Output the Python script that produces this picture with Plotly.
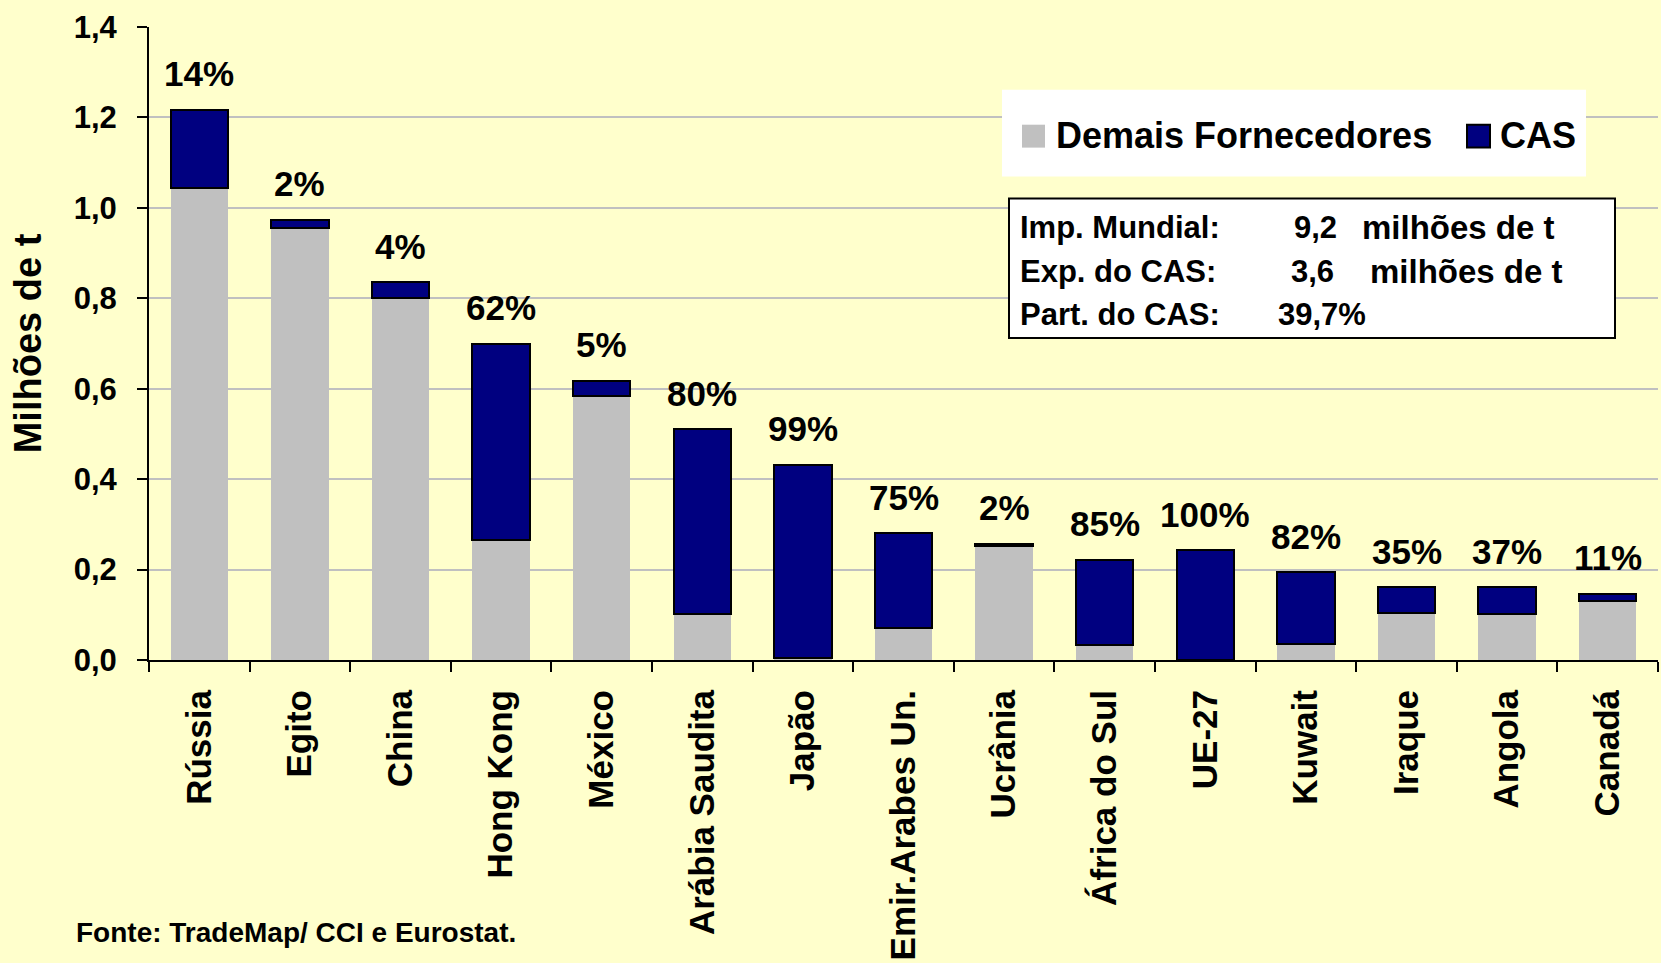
import plotly.graph_objects as go

# ---------------- data ----------------
categories = ["Rússia", "Egito", "China", "Hong Kong", "México", "Arábia Saudita",
              "Japão", "Emir.Arabes Un.", "Ucrânia", "África do Sul", "UE-27",
              "Kuwait", "Iraque", "Angola", "Canadá"]
demais = [1.045, 0.955, 0.800, 0.265, 0.585, 0.102, 0.004, 0.070, 0.252,
          0.033, 0.000, 0.035, 0.105, 0.101, 0.131]
cas = [0.172, 0.019, 0.035, 0.435, 0.033, 0.408, 0.428, 0.210, 0.005,
       0.189, 0.243, 0.159, 0.056, 0.060, 0.016]
cas_share = [14, 2, 4, 62, 5, 80, 99, 75, 2, 85, 100, 82, 35, 37, 11]
y_ticks = [0.0, 0.2, 0.4, 0.6, 0.8, 1.0, 1.2, 1.4]
series_names = ["Demais Fornecedores", "CAS"]
info_labels = ["Imp. Mundial:", "Exp. do CAS:", "Part. do CAS:"]
info_values = ["9,2", "3,6", "39,7%"]
info_units = ["milhões de t", "milhões de t", ""]
source_text = "Fonte: TradeMap/ CCI e Eurostat."
y_title = "Milhões de t"

# ---------------- style ----------------
W, H = 1661, 963
L, R, T, B = 149, 3, 27, 301
PW, PH = W - L - R, H - T - B
FONT = "Liberation Sans, Arial, sans-serif"
BG = "#FFFFCC"
GRAY = "#C0C0C0"
NAVY = "#000080"


def px(x):
    return (x - L) / PW


def py(y):
    return (H - B - y) / PH


fig = go.Figure()
fig.add_trace(go.Bar(x=categories, y=demais, name=series_names[0],
                     marker=dict(color=GRAY, line=dict(width=0)),
                     showlegend=False))
fig.add_trace(go.Bar(x=categories, y=cas, name=series_names[1],
                     marker=dict(color=NAVY, line=dict(color="black", width=2)),
                     showlegend=False))

totals = [a + b for a, b in zip(demais, cas)]
annotations = []
for c, t, s in zip(categories, totals, cas_share):
    annotations.append(dict(x=c, y=t, xref="x", yref="y", text=f"{s}%",
                            showarrow=False, yanchor="middle", yshift=36,
                            font=dict(family=FONT, size=35, color="black", weight="bold")))

# legend (drawn manually so the swatches match the reference size)
shapes = [
    dict(type="rect", xref="paper", yref="paper", x0=px(1002), x1=px(1586),
         y0=py(177), y1=py(90), fillcolor="white", line=dict(width=0), layer="above"),
    dict(type="rect", xref="paper", yref="paper", x0=px(1022), x1=px(1045),
         y0=py(148), y1=py(125), fillcolor=GRAY, line=dict(width=0), layer="above"),
    dict(type="rect", xref="paper", yref="paper", x0=px(1467), x1=px(1490),
         y0=py(148), y1=py(125), fillcolor=NAVY, line=dict(color="black", width=2), layer="above"),
    dict(type="rect", xref="paper", yref="paper", x0=px(1009), x1=px(1615),
         y0=py(339), y1=py(199), fillcolor="white", line=dict(color="black", width=2), layer="above"),
]
annotations.append(dict(xref="paper", yref="paper", x=px(1054), y=py(136), text=series_names[0],
                        showarrow=False, xanchor="left", yanchor="middle",
                        font=dict(family=FONT, size=36, color="black", weight="bold")))
annotations.append(dict(xref="paper", yref="paper", x=px(1498), y=py(136), text=series_names[1],
                        showarrow=False, xanchor="left", yanchor="middle",
                        font=dict(family=FONT, size=36, color="black", weight="bold")))

# info box
row_y = [228, 272, 315]
val_x = [1292, 1289, 1276]
unit_x = [1360, 1368, 0]
for i in range(3):
    f = dict(family=FONT, size=31, color="black", weight="bold")
    annotations.append(dict(xref="paper", yref="paper", x=px(1018), y=py(row_y[i]),
                            text=info_labels[i], showarrow=False, xanchor="left",
                            yanchor="middle", font=f))
    annotations.append(dict(xref="paper", yref="paper", x=px(val_x[i]), y=py(row_y[i]),
                            text=info_values[i], showarrow=False, xanchor="left",
                            yanchor="middle", font=f))
    if info_units[i]:
        annotations.append(dict(xref="paper", yref="paper", x=px(unit_x[i]), y=py(row_y[i]),
                                text=info_units[i], showarrow=False, xanchor="left",
                                yanchor="middle", font=dict(f, size=33)))

annotations.append(dict(xref="paper", yref="paper", x=px(74), y=py(935), text=source_text,
                        showarrow=False, xanchor="left", yanchor="middle",
                        font=dict(family=FONT, size=28, color="black", weight="bold")))

fig.update_layout(
    width=W, height=H,
    margin=dict(l=L, r=R, t=T, b=B, pad=0),
    paper_bgcolor=BG, plot_bgcolor=BG,
    barmode="stack", bargap=0.43,
    separators=",.",
    font=dict(family=FONT, color="black"),
    shapes=shapes, annotations=annotations,
    showlegend=False,
)
fig.update_xaxes(
    type="category", showline=True, linecolor="black", linewidth=2,
    ticks="outside", tickson="boundaries", ticklen=10, tickwidth=2, tickcolor="black",
    tickangle=-90, ticklabelstandoff=14,
    tickfont=dict(family=FONT, size=35, color="black", weight="bold"),
    showgrid=False, fixedrange=True,
)
fig.update_yaxes(
    range=[0, 1.4], tickvals=y_ticks, tickformat=".1f",
    showline=True, linecolor="black", linewidth=2,
    ticks="outside", ticklen=10, tickwidth=2, tickcolor="black",
    ticklabelstandoff=14,
    tickfont=dict(family=FONT, size=31, color="black", weight="bold"),
    showgrid=True, gridcolor=GRAY, gridwidth=2, zeroline=False,
    title=dict(text=y_title, standoff=20,
               font=dict(family=FONT, size=38, color="black", weight="bold")),
    fixedrange=True,
)

fig.write_html("out.html", post_script="document.body.style.margin='0px';",
               config={"displayModeBar": False})
